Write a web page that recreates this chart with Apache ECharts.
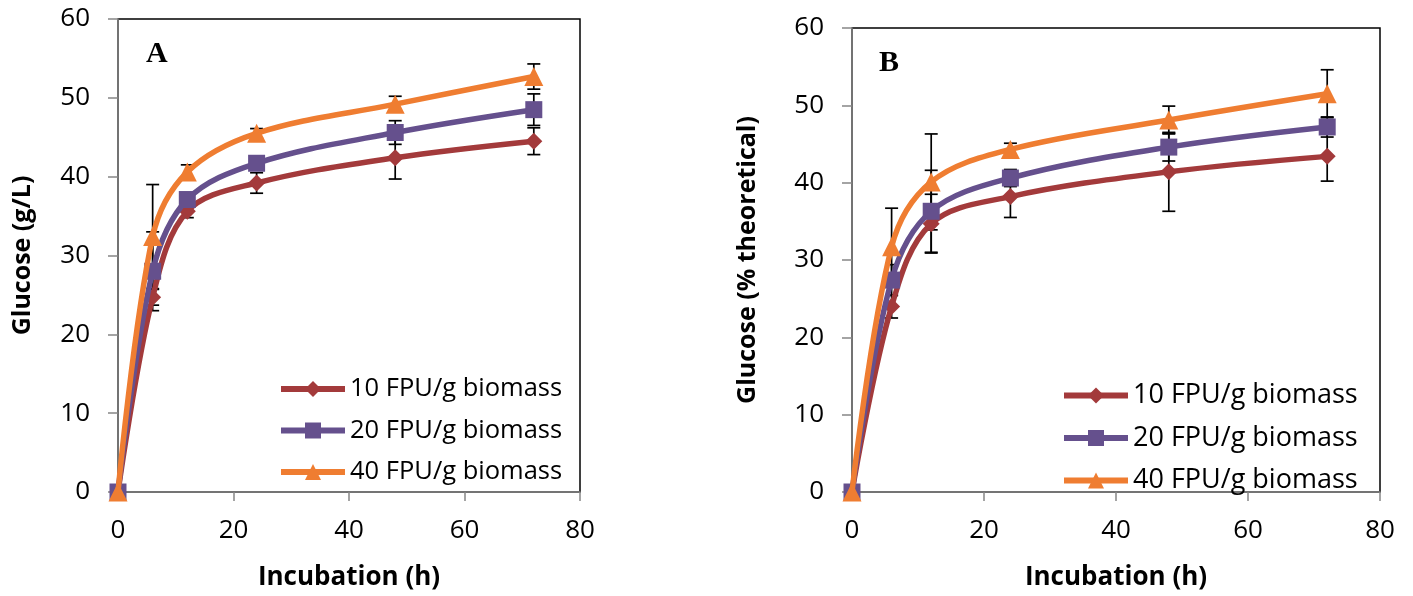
<!DOCTYPE html>
<html>
<head>
<meta charset="utf-8">
<script src="https://cdn.jsdelivr.net/npm/echarts@6/dist/echarts.min.js"></script>
<style>html,body{margin:0;padding:0;background:#fff}#c{width:1413px;height:596px}</style>
</head>
<body>
<div id="c"></div>
<script>
// ---- data ----
const hours = [0, 6, 12, 24, 48, 72];
const seriesNames = ['10 FPU/g biomass', '20 FPU/g biomass', '40 FPU/g biomass'];
// Panel A: glucose (g/L)
const a10 = [0, 24.7, 35.6, 39.2, 42.4, 44.5];
const a20 = [0, 28.0, 37.1, 41.7, 45.6, 48.5];
const a40 = [0, 32.4, 40.6, 45.5, 49.2, 52.7];
const a10Err = [0, 1.0, 0.8, 1.3, 2.7, 1.7];
const a20Err = [0, 5.0, 0.8, 0.8, 1.5, 2.0];
const a40Err = [0, 6.6, 0.9, 0.6, 1.0, 1.6];
// Panel B: glucose (% theoretical)
const b10 = [0, 24.0, 34.7, 38.2, 41.4, 43.4];
const b20 = [0, 27.4, 36.3, 40.6, 44.6, 47.2];
const b40 = [0, 31.7, 40.1, 44.3, 48.1, 51.5];
const b10Err = [0, 1.5, 3.8, 2.7, 5.1, 3.2];
const b20Err = [0, 2.0, 5.3, 1.1, 1.8, 1.3];
const b40Err = [0, 5.0, 6.2, 0.8, 1.8, 3.1];
const yTicks = [0, 10, 20, 30, 40, 50, 60];
const xTicks = [0, 20, 40, 60, 80];

const colors = ['#A33A3B', '#65508D', '#EF7D31'];
const symbols = ['diamond', 'rect', 'triangle'];
const symbolSizes = [17, 17, 19];
const FONT = '"Open Sans", "Noto Sans", sans-serif';

const chart = echarts.init(document.getElementById('c'), null, {renderer: 'canvas'});

function pairs(vals) { return hours.map((h, i) => [h, vals[i]]); }
function errData(vals, errs) { return hours.map((h, i) => [h, vals[i] - errs[i], vals[i] + errs[i]]); }

function errSeries(idx, vals, errs) {
  return {
    type: 'custom', xAxisIndex: idx, yAxisIndex: idx, z: 1, silent: true,
    data: errData(vals, errs),
    renderItem: function (params, api) {
      const lo = api.coord([api.value(0), api.value(1)]);
      const hi = api.coord([api.value(0), api.value(2)]);
      const hw = 6.5;
      const st = {stroke: '#000', lineWidth: 1.7};
      return {type: 'group', children: [
        {type: 'line', shape: {x1: lo[0], y1: lo[1], x2: hi[0], y2: hi[1]}, style: st},
        {type: 'line', shape: {x1: lo[0] - hw, y1: lo[1], x2: lo[0] + hw, y2: lo[1]}, style: st},
        {type: 'line', shape: {x1: hi[0] - hw, y1: hi[1], x2: hi[0] + hw, y2: hi[1]}, style: st}
      ]};
    }
  };
}
function lineSeries(idx, k, vals) {
  return {
    type: 'line', name: seriesNames[k], xAxisIndex: idx, yAxisIndex: idx, z: 3 + k,
    data: pairs(vals), smooth: 0.35,
    symbol: symbols[k], symbolSize: symbolSizes[k], showSymbol: true,
    lineStyle: {color: colors[k], width: 5.5},
    itemStyle: {color: colors[k]},
    emphasis: {disabled: true}
  };
}

function xAxisCfg(idx) {
  return {
    type: 'value', gridIndex: idx, min: 0, max: 80, interval: 20,
    name: 'Incubation (h)', nameLocation: 'middle', nameGap: 73,
    nameTextStyle: {fontFamily: FONT, fontSize: 26, fontWeight: 'bold', color: '#000'},
    axisLine: {show: true, lineStyle: {color: '#868686', width: 1.5}},
    axisTick: {show: true, inside: false, length: 9, lineStyle: {color: '#868686', width: 1.5}},
    axisLabel: {fontFamily: FONT, fontSize: 26, color: '#000', margin: 26},
    splitLine: {show: false}
  };
}
function yAxisCfg(idx, name, gap) {
  return {
    type: 'value', gridIndex: idx, min: 0, max: 60, interval: 10,
    name: name, nameLocation: 'middle', nameGap: gap, nameRotate: 90,
    nameTextStyle: {fontFamily: FONT, fontSize: 25, fontWeight: 'bold', color: '#000'},
    axisLine: {show: true, lineStyle: {color: '#868686', width: 1.5}},
    axisTick: {show: true, inside: false, length: 10, lineStyle: {color: '#868686', width: 1.5}},
    axisLabel: {fontFamily: FONT, fontSize: 26, color: '#000', margin: 28},
    splitLine: {show: false}
  };
}
function legendCfg(left, top, fs) {
  return {
    left: left, top: top, orient: 'vertical', data: seriesNames,
    itemWidth: 64, itemHeight: 20, itemGap: 15.5, selectedMode: false,
    lineStyle: {width: 6},
    textStyle: {fontFamily: FONT, fontSize: fs, color: '#000', lineHeight: 26}
  };
}

const option = {
  backgroundColor: '#fff',
  animation: false,
  grid: [
    {left: 118, top: 19, width: 462, height: 473, show: true, borderColor: '#000', borderWidth: 1.5, backgroundColor: 'transparent'},
    {left: 852, top: 28, width: 528, height: 468, show: true, borderColor: '#000', borderWidth: 1.5, backgroundColor: 'transparent'}
  ],
  xAxis: [xAxisCfg(0), xAxisCfg(1)],
  yAxis: [yAxisCfg(0, 'Glucose (g/L)', 83), yAxisCfg(1, 'Glucose (% theoretical)', 92)],
  legend: [legendCfg(273, 371, 25.5), legendCfg(1056, 377, 27)],
  graphic: [
    {type: 'text', left: 146, top: 39, style: {text: 'A', font: 'bold 30px "Liberation Serif", "DejaVu Serif", serif', fill: '#000'}},
    {type: 'text', left: 879, top: 48, style: {text: 'B', font: 'bold 30px "Liberation Serif", "DejaVu Serif", serif', fill: '#000'}}
  ],
  series: [
    errSeries(0, a10, a10Err), errSeries(0, a20, a20Err), errSeries(0, a40, a40Err),
    lineSeries(0, 0, a10), lineSeries(0, 1, a20), lineSeries(0, 2, a40),
    errSeries(1, b10, b10Err), errSeries(1, b20, b20Err), errSeries(1, b40, b40Err),
    lineSeries(1, 0, b10), lineSeries(1, 1, b20), lineSeries(1, 2, b40)
  ]
};
chart.setOption(option);
</script>
</body>
</html>
